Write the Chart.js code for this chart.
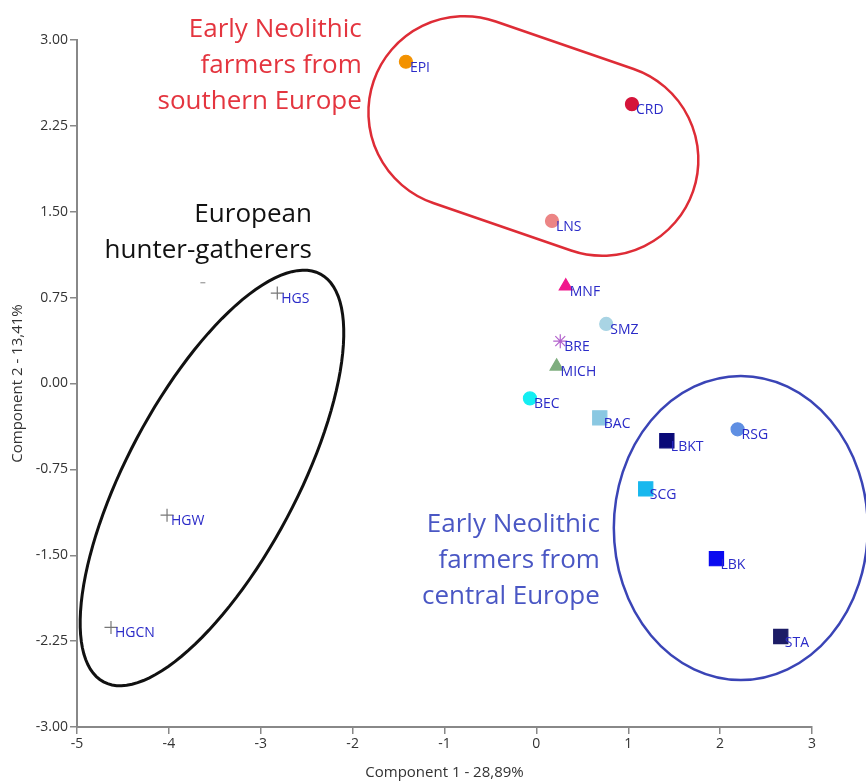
<!DOCTYPE html>
<html>
<head>
<meta charset="utf-8">
<script src="https://cdn.jsdelivr.net/npm/chart.js@4.4.1/dist/chart.umd.min.js"></script>
<style>
    html, body { margin: 0; padding: 0; background: #fff; }
</style>
</head>
<body>
<canvas id="pca" width="866" height="783"></canvas>
<script>
// sample groups and their scores on the first two components
const groups = ["EPI", "CRD", "LNS", "MNF", "SMZ", "BRE", "MICH", "BEC", "BAC", "LBKT", "RSG", "SCG", "LBK", "STA", "HGS", "HGW", "HGCN", ""];
const comp1 = [-1.42, 1.04, 0.17, 0.32, 0.76, 0.26, 0.22, -0.07, 0.69, 1.42, 2.19, 1.19, 1.96, 2.66, -2.82, -4.02, -4.63, -3.63];
const comp2 = [2.81, 2.44, 1.42, 0.85, 0.52, 0.37, 0.15, -0.13, -0.30, -0.50, -0.40, -0.92, -1.53, -2.21, 0.79, -1.15, -2.13, 0.88];

const xTicks = [-5, -4, -3, -2, -1, 0, 1, 2, 3];
const yTicks = [-3, -2.25, -1.5, -0.75, 0, 0.75, 1.5, 2.25, 3];

const markerColors = ["#f39200", "#d5143a", "#ec8585", "#f0178c", "#a9d4e4", "#b261cc", "#7fae7f", "#14eef2", "#8ac8e2", "#0a0a78",
    "#5f8fe3", "#18b8ee", "#0a0af0", "#1c1c66", "#777777", "#777777", "#777777", "#999999"];
const markerShapes = ["circle", "circle", "circle", "triangle", "circle", "star", "triangle", "circle", "rect", "rect",
    "circle", "rect", "rect", "rect", "cross", "cross", "cross", "line"];
const markerSizes = [6.5, 6.5, 6.5, 7.5, 6.5, 7, 7.5, 6.5, 10, 10, 6.5, 10, 10, 10, 6.5, 6.5, 6.5, 2.5];

const fontFamily = "'Open Sans', 'Noto Sans', sans-serif";

const groupShapes = {
    id: "groupShapes",
    beforeDatasetsDraw(chart) {
        const ctx = chart.ctx;
        const x = chart.scales.x;
        const y = chart.scales.y;
        const pxPerX = x.getPixelForValue(1) - x.getPixelForValue(0);

        ctx.save();

        // southern farmers: rounded band between two end centres
        const a = { x: x.getPixelForValue(-0.783), y: y.getPixelForValue(2.369) };
        const b = { x: x.getPixelForValue(0.718), y: y.getPixelForValue(1.954) };
        const r = 1.045 * pxPerX;
        const ang = Math.atan2(b.y - a.y, b.x - a.x);
        ctx.beginPath();
        ctx.arc(b.x, b.y, r, ang - Math.PI / 2, ang + Math.PI / 2);
        ctx.arc(a.x, a.y, r, ang + Math.PI / 2, ang + Math.PI * 1.5);
        ctx.closePath();
        ctx.strokeStyle = "#de2c36";
        ctx.lineWidth = 2.5;
        ctx.stroke();

        // hunter-gatherers: tilted ellipse from conjugate half-axes
        const c = [-3.531, -0.825];
        const u = [1.18, 1.781];
        const v = [0.816, -0.349];
        ctx.beginPath();
        for (let i = 0; i <= 120; i++) {
            const t = (i / 120) * Math.PI * 2;
            const px = x.getPixelForValue(c[0] + u[0] * Math.cos(t) + v[0] * Math.sin(t));
            const py = y.getPixelForValue(c[1] + u[1] * Math.cos(t) + v[1] * Math.sin(t));
            if (i === 0) ctx.moveTo(px, py);
            else ctx.lineTo(px, py);
        }
        ctx.closePath();
        ctx.strokeStyle = "#111";
        ctx.lineWidth = 3;
        ctx.stroke();

        // central farmers
        const rx = x.getPixelForValue(2.225 + 1.382) - x.getPixelForValue(2.225);
        const ry = y.getPixelForValue(-1.262) - y.getPixelForValue(-1.262 + 1.328);
        ctx.beginPath();
        ctx.ellipse(x.getPixelForValue(2.225), y.getPixelForValue(-1.262), rx, ry, 0, 0, Math.PI * 2);
        ctx.strokeStyle = "#3a44b6";
        ctx.lineWidth = 2.5;
        ctx.stroke();

        // group captions
        const notes = [
            { lines: ["Early Neolithic", "farmers from", "southern Europe"], x: -1.9, y: 3.026, color: "#e4353f" },
            { lines: ["European", "hunter-gatherers"], x: -2.443, y: 1.41, color: "#111" },
            { lines: ["Early Neolithic", "farmers from", "central Europe"], x: 0.691, y: -1.297, color: "#4a57c4" },
        ];
        ctx.font = "26px " + fontFamily;
        ctx.textAlign = "right";
        ctx.textBaseline = "alphabetic";
        notes.forEach((note) => {
            ctx.fillStyle = note.color;
            note.lines.forEach((line, k) => {
                ctx.fillText(line, x.getPixelForValue(note.x), y.getPixelForValue(note.y) + k * 36);
            });
        });

        ctx.restore();
    },
    afterDatasetsDraw(chart) {
        const ctx = chart.ctx;
        const meta = chart.getDatasetMeta(0);
        ctx.save();
        ctx.font = "14px " + fontFamily;
        ctx.fillStyle = "#2b2bc8";
        ctx.textAlign = "left";
        ctx.textBaseline = "middle";
        meta.data.forEach((pt, i) => {
            ctx.fillText(groups[i], pt.x + 4, pt.y + 6);
        });
        ctx.restore();
    },
};

const points = comp1.map((val, i) => ({ x: val, y: comp2[i] }));

new Chart(document.getElementById("pca"), {
    type: "scatter",
    data: {
        datasets: [
            {
                label: "groups",
                data: points,
                pointStyle: markerShapes,
                pointRadius: markerSizes,
                pointBackgroundColor: markerColors,
                pointBorderColor: markerColors,
                pointBorderWidth: 1.2,
            },
        ],
    },
    options: {
        responsive: false,
        animation: false,
        layout: {
            padding: { top: 40, right: 54, left: 0, bottom: 0 },
        },
        plugins: {
            legend: { display: false },
            tooltip: { enabled: false },
        },
        scales: {
            x: {
                type: "linear",
                min: -5,
                max: 3,
                afterFit: (scale) => { scale.height = 56; },
                afterBuildTicks: (scale) => { scale.ticks = xTicks.map((v) => ({ value: v })); },
                grid: { drawOnChartArea: false, drawTicks: true, tickLength: 7, color: "#888", lineWidth: 1.5 },
                border: { color: "#888", width: 2 },
                ticks: { color: "#333", font: { family: fontFamily, size: 14 }, padding: 2 },
                title: {
                    display: true,
                    text: "Component 1 - 28,89%",
                    color: "#333",
                    font: { family: fontFamily, size: 15 },
                    padding: { top: 0, bottom: 1 },
                },
            },
            y: {
                type: "linear",
                min: -3,
                max: 3,
                afterFit: (scale) => { scale.width = 77; },
                afterBuildTicks: (scale) => { scale.ticks = yTicks.map((v) => ({ value: v })); },
                grid: { drawOnChartArea: false, drawTicks: true, tickLength: 7, color: "#888", lineWidth: 1.5 },
                border: { color: "#888", width: 2 },
                ticks: {
                    color: "#333",
                    font: { family: fontFamily, size: 14 },
                    padding: 2,
                    callback: (value) => value.toFixed(2),
                },
                title: {
                    display: true,
                    text: "Component 2 - 13,41%",
                    color: "#333",
                    font: { family: fontFamily, size: 15 },
                    padding: { top: 9, bottom: 0 },
                },
            },
        },
    },
    plugins: [groupShapes],
});
</script>
</body>
</html>
